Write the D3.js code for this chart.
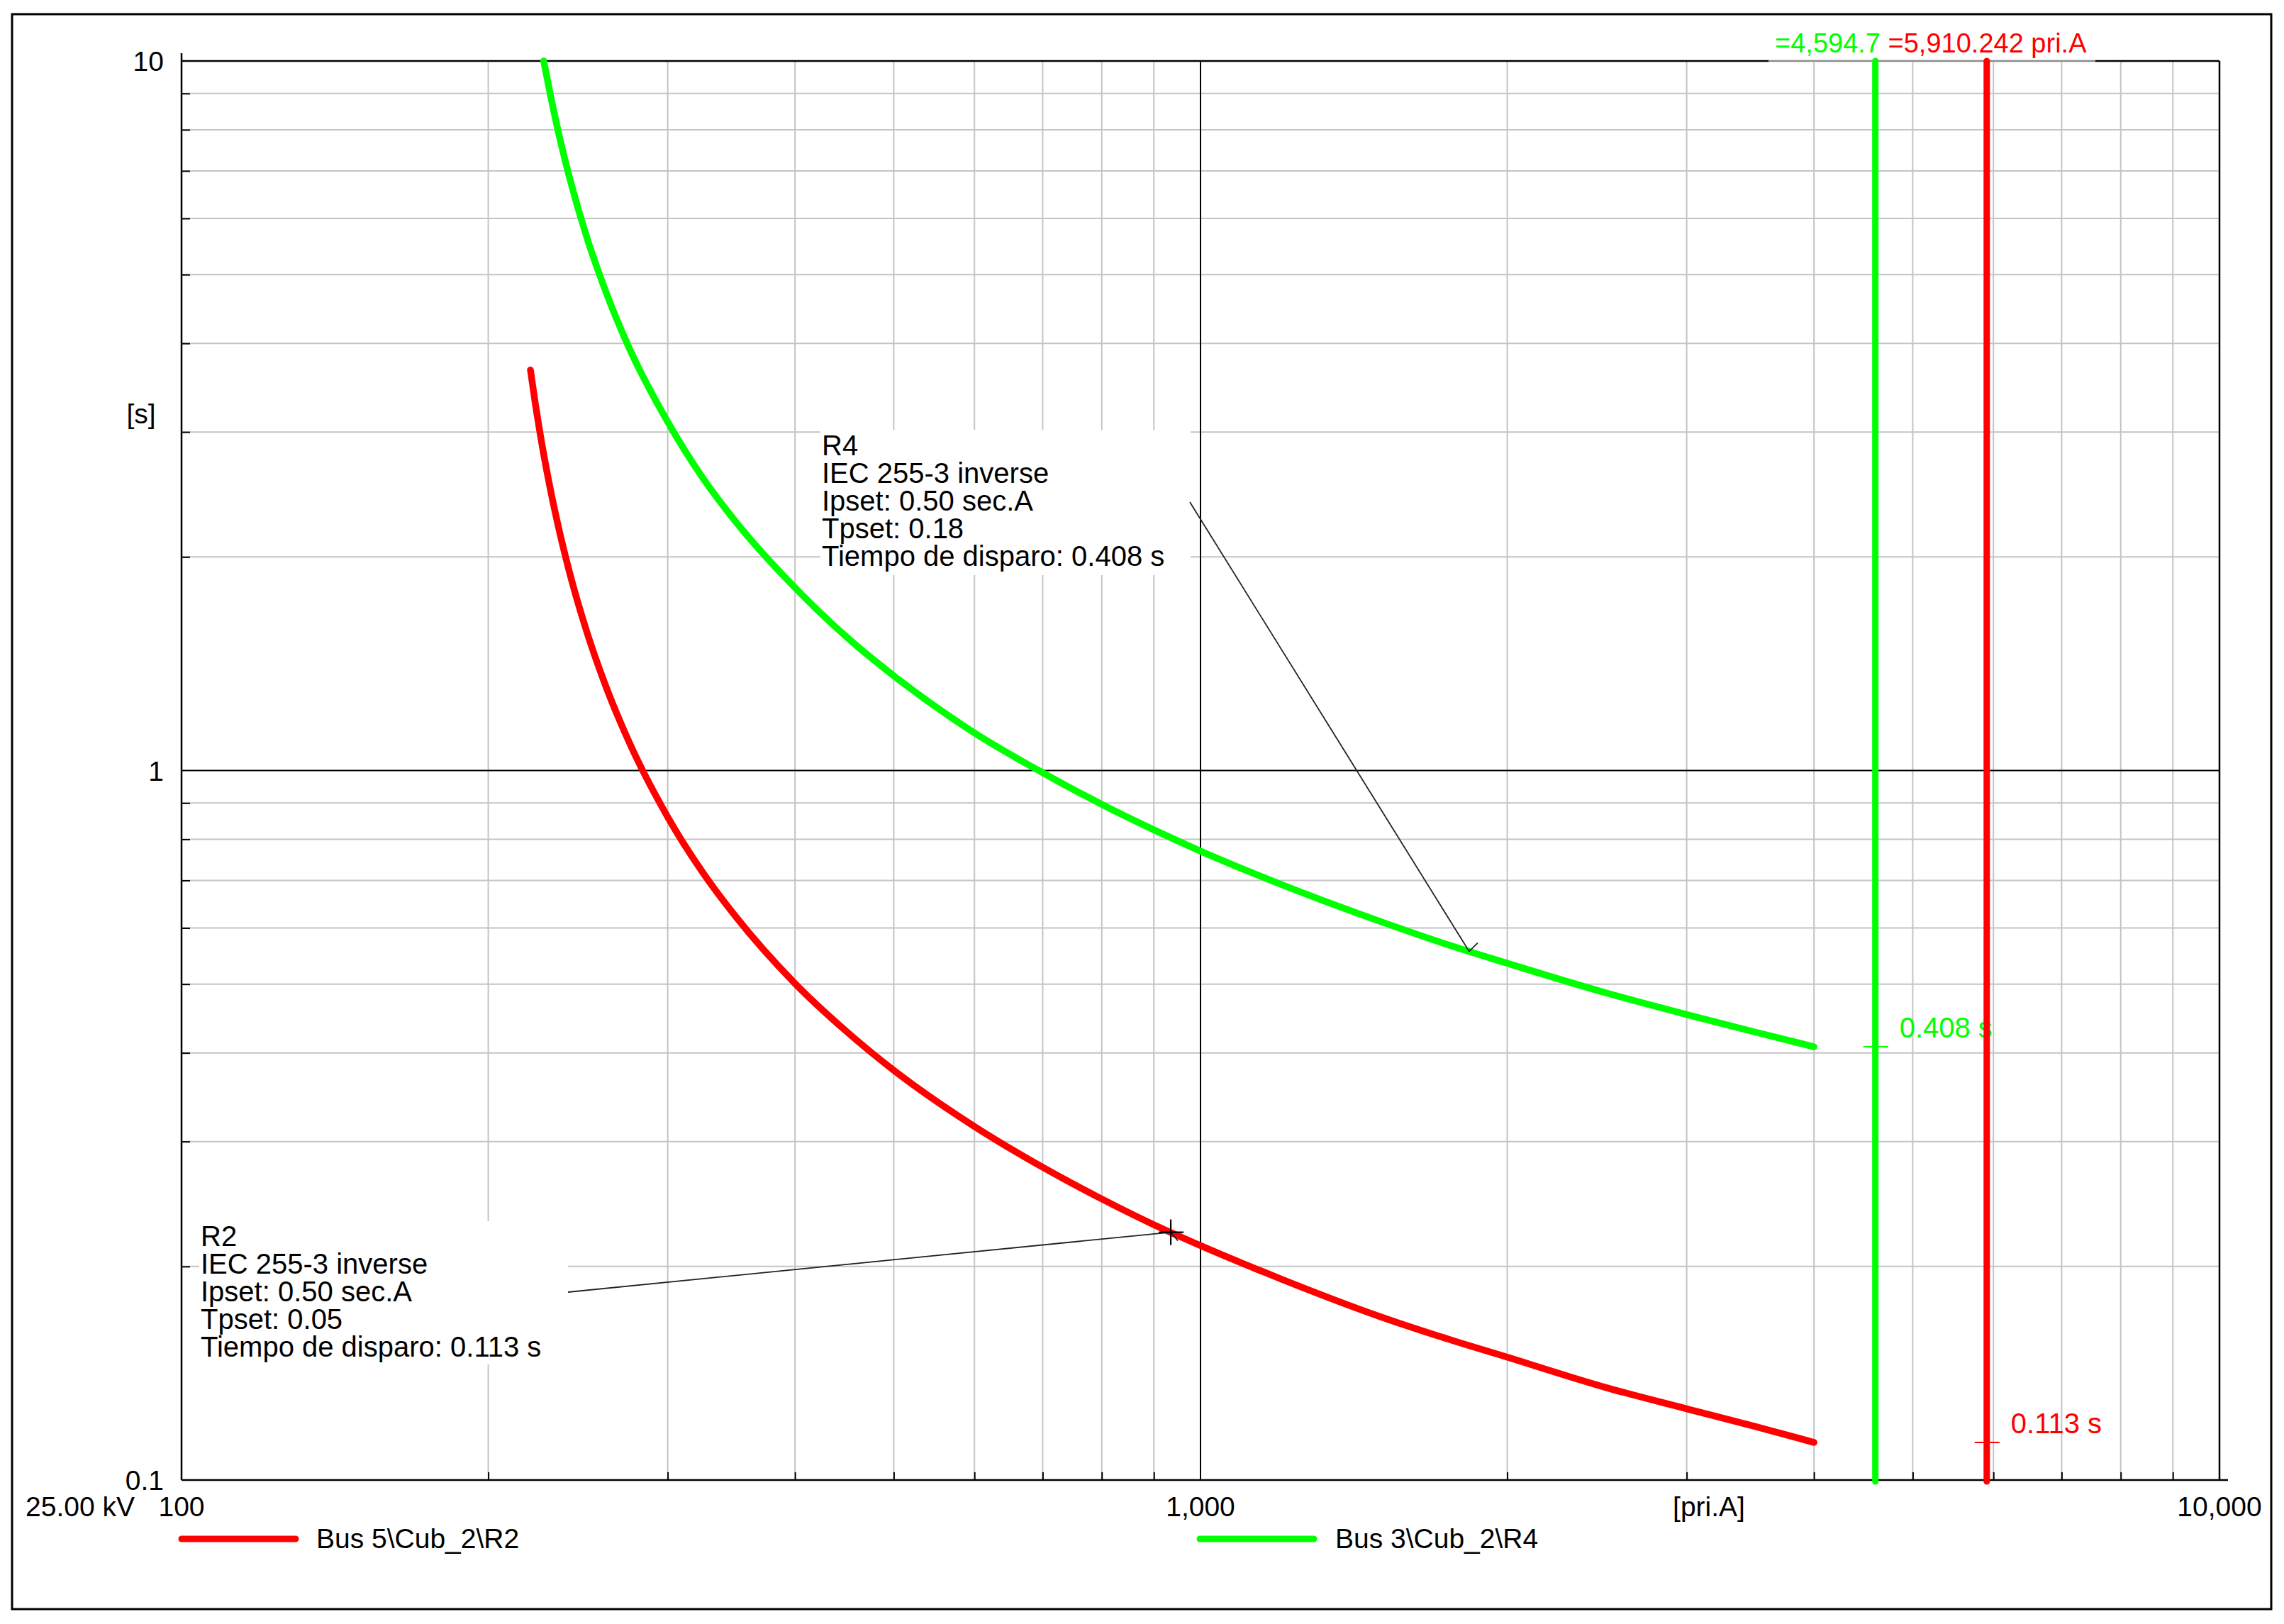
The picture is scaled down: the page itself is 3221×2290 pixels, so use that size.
<!DOCTYPE html>
<html>
<head>
<meta charset="utf-8">
<script src="https://cdn.jsdelivr.net/npm/d3@7"></script>
<style>
  html, body { margin: 0; padding: 0; background: #ffffff; }
  svg text { font-family: "Liberation Sans", Arial, sans-serif; font-size: 39px; }
</style>
</head>
<body>
<script>
// ---------------- DATA ----------------
const r2Current = [220, 222.5, 225, 230, 235, 240, 250, 260, 275, 300, 325, 350, 400, 450, 500, 600, 700, 800, 900, 1000, 1200, 1500, 1750, 2000, 2500, 3000, 3500, 4000];
const r2Time    = [3.669, 3.279, 2.968, 2.501, 2.167, 1.916, 1.565, 1.331, 1.096, 0.860, 0.717, 0.622, 0.501, 0.428, 0.378, 0.315, 0.276, 0.249, 0.229, 0.214, 0.192, 0.170, 0.158, 0.149, 0.135, 0.126, 0.119, 0.113];

const r4Current = [226.7, 230, 235, 240, 250, 260, 275, 300, 325, 350, 400, 450, 500, 600, 700, 800, 900, 1000, 1200, 1500, 1750, 2000, 2500, 3000, 3500, 4000];
const r4Time    = [10.0, 9.00, 7.80, 6.90, 5.63, 4.79, 3.94, 3.10, 2.58, 2.24, 1.81, 1.54, 1.36, 1.13, 0.993, 0.896, 0.825, 0.770, 0.691, 0.613, 0.568, 0.535, 0.486, 0.453, 0.428, 0.408];

const seriesNames  = ["Bus 5\\Cub_2\\R2", "Bus 3\\Cub_2\\R4"];
const seriesColors = ["#ff0000", "#00ff00"];

// fault current markers (vertical lines) and their trip times
const faultCurrent = [5910.242, 4594.7];   // R2 (red), R4 (green)
const faultLabel   = ["=5,910.242 pri.A", "=4,594.7"];
const tripTime     = [0.113, 0.408];
const tripLabel    = ["0.113 s", "0.408 s"];

// annotation pointers (on curves)
const r2PointerCurrent = 935,  r2PointerTime = 0.2235;
const r4PointerCurrent = 1835, r4PointerTime = 0.556;

const r2Info = ["R2", "IEC 255-3 inverse", "Ipset: 0.50 sec.A", "Tpset: 0.05", "Tiempo de disparo: 0.113 s"];
const r4Info = ["R4", "IEC 255-3 inverse", "Ipset: 0.50 sec.A", "Tpset: 0.18", "Tiempo de disparo: 0.408 s"];

const xTickValues = [100, 1000, 10000];
const xTickLabels = ["100", "1,000", "10,000"];
const yTickValues = [10, 1, 0.1];
const yTickLabels = ["10", "1", "0.1"];

// ---------------- LAYOUT ----------------
const W = 3221, H = 2290;
const L = 256, R = 3130, T = 86, B = 2087;

const svg = d3.select("body").append("svg")
  .attr("width", W).attr("height", H)
  .attr("viewBox", `0 0 ${W} ${H}`);

svg.append("rect").attr("x", 0).attr("y", 0).attr("width", W).attr("height", H).attr("fill", "#fff");

const x = d3.scaleLog().domain([100, 10000]).range([L, R]);
const y = d3.scaleLog().domain([0.1, 10]).range([B, T]);

// outer frame
svg.append("rect").attr("x", 17).attr("y", 20).attr("width", 3203 - 17).attr("height", 2269 - 20)
  .attr("fill", "none").attr("stroke", "#000").attr("stroke-width", 3);

const isDecade = v => Math.abs(Math.log10(v) - Math.round(Math.log10(v))) < 1e-9;
const xMinor = x.ticks().filter(v => !isDecade(v));
const yMinor = y.ticks().filter(v => !isDecade(v));

// minor gridlines
const grid = svg.append("g").attr("stroke", "#c4c4c4").attr("stroke-width", 2);
grid.selectAll("line.vx").data(xMinor).join("line")
  .attr("x1", d => x(d)).attr("x2", d => x(d)).attr("y1", T).attr("y2", B);
grid.selectAll("line.hy").data(yMinor).join("line")
  .attr("x1", L).attr("x2", R).attr("y1", d => y(d)).attr("y2", d => y(d));

// decade lines
svg.append("line").attr("x1", x(1000)).attr("x2", x(1000)).attr("y1", T).attr("y2", B)
  .attr("stroke", "#000").attr("stroke-width", 2);
svg.append("line").attr("x1", L).attr("x2", R).attr("y1", y(1)).attr("y2", y(1))
  .attr("stroke", "#000").attr("stroke-width", 2);

// ticks via d3 axes
const axB = svg.append("g").attr("transform", `translate(0,${B})`)
  .call(d3.axisBottom(x).tickValues(xMinor).tickSize(-11).tickFormat(""));
axB.select(".domain").remove();
axB.selectAll("line").attr("stroke", "#000").attr("stroke-width", 2);
const axL = svg.append("g").attr("transform", `translate(${L},0)`)
  .call(d3.axisLeft(y).tickValues(yMinor).tickSize(-12).tickFormat(""));
axL.select(".domain").remove();
axL.selectAll("line").attr("stroke", "#000").attr("stroke-width", 2);

// annotation boxes (white background)
const r4Box = {x: 1157, y: 606, w: 522, h: 205};
const r2Box = {x: 281, y: 1722, w: 520, h: 202};
[r4Box, r2Box].forEach(b => svg.append("rect").attr("x", b.x).attr("y", b.y)
  .attr("width", b.w).attr("height", b.h).attr("fill", "#fff"));

// plot border / axes
const border = svg.append("g").attr("stroke", "#000").attr("stroke-width", 2.5).attr("fill", "none");
border.append("line").attr("x1", L).attr("x2", R).attr("y1", T).attr("y2", T);
border.append("line").attr("x1", R).attr("x2", R).attr("y1", T).attr("y2", B);
border.append("line").attr("x1", L).attr("x2", L).attr("y1", T - 11).attr("y2", B);
border.append("line").attr("x1", L).attr("x2", R + 12).attr("y1", B).attr("y2", B);

// semi-transparent label background over top border
svg.append("rect").attr("x", 2494).attr("y", 40).attr("width", 461).attr("height", 48)
  .attr("fill", "#fff").attr("opacity", 0.55);

// curves
const line = d3.line().x(d => x(d[0])).y(d => y(d[1])).curve(d3.curveMonotoneX);
const r2Data = r2Current.map((c, i) => [c, r2Time[i]]);
const r4Data = r4Current.map((c, i) => [c, r4Time[i]]);
svg.append("path").datum(r2Data).attr("d", line).attr("fill", "none")
  .attr("stroke", seriesColors[0]).attr("stroke-width", 9.5).attr("stroke-linecap", "round").attr("stroke-linejoin", "round");
svg.append("path").datum(r4Data).attr("d", line).attr("fill", "none")
  .attr("stroke", seriesColors[1]).attr("stroke-width", 9.5).attr("stroke-linecap", "round").attr("stroke-linejoin", "round");

// trip-time markers & labels
faultCurrent.forEach((fc, i) => {
  const px = x(fc), py = y(tripTime[i]);
  svg.append("line").attr("x1", px - 17).attr("x2", px + 18).attr("y1", py).attr("y2", py)
    .attr("stroke", seriesColors[i]).attr("stroke-width", 2);
  svg.append("text").attr("x", px + 34).attr("y", py - 13).attr("fill", seriesColors[i])
    .style("font-size", "40px").text(tripLabel[i]);
});

// vertical fault-current lines
faultCurrent.forEach((fc, i) => {
  svg.append("line").attr("x1", x(fc)).attr("x2", x(fc)).attr("y1", T).attr("y2", B + 2)
    .attr("stroke", seriesColors[i]).attr("stroke-width", 9).attr("stroke-linecap", "round");
});

// top label
const topT = svg.append("text").attr("x", 2503).attr("y", 74).style("font-size", "38px");
topT.append("tspan").attr("fill", seriesColors[1]).text(faultLabel[1]);
topT.append("tspan").attr("fill", seriesColors[0]).text(" " + faultLabel[0]);

// leaders
const lead = svg.append("g").attr("stroke", "#222").attr("stroke-width", 1.8).attr("fill", "none");
const t4x = x(r4PointerCurrent), t4y = y(r4PointerTime);
lead.append("line").attr("x1", r4Box.x + r4Box.w - 1).attr("y1", 708).attr("x2", t4x).attr("y2", t4y);
lead.append("line").attr("x1", t4x).attr("y1", t4y).attr("x2", t4x + 12).attr("y2", t4y - 12);
const t2x = x(r2PointerCurrent), t2y = y(r2PointerTime);
lead.append("line").attr("x1", r2Box.x + r2Box.w).attr("y1", 1822).attr("x2", t2x).attr("y2", t2y);
lead.append("line").attr("x1", t2x).attr("y1", t2y).attr("x2", t2x + 10).attr("y2", t2y + 12);
const cross = svg.append("g").attr("stroke", "#000").attr("stroke-width", 2.2);
cross.append("line").attr("x1", t2x - 17).attr("x2", t2x + 18).attr("y1", t2y).attr("y2", t2y);
cross.append("line").attr("x1", t2x).attr("x2", t2x).attr("y1", t2y - 18).attr("y2", t2y + 18);

// annotation texts
r4Info.forEach((s, i) => svg.append("text").attr("x", r4Box.x + 2).attr("y", 642 + i * 39)
  .style("font-size", "40px").attr("fill", "#000").text(s));
r2Info.forEach((s, i) => svg.append("text").attr("x", r2Box.x + 2).attr("y", 1757 + i * 39)
  .style("font-size", "40px").attr("fill", "#000").text(s));

// axis labels
yTickValues.forEach((v, i) => svg.append("text").attr("x", 231).attr("y", y(v) + 14)
  .attr("text-anchor", "end").attr("fill", "#000").text(yTickLabels[i]));
xTickValues.forEach((v, i) => svg.append("text").attr("x", x(v)).attr("y", 2138)
  .attr("text-anchor", "middle").attr("fill", "#000").text(xTickLabels[i]));
svg.append("text").attr("x", 36).attr("y", 2138).attr("fill", "#000").text("25.00 kV");
svg.append("text").attr("x", 2410).attr("y", 2138).attr("text-anchor", "middle").attr("fill", "#000").text("[pri.A]");
svg.append("text").attr("x", 199).attr("y", 597).attr("text-anchor", "middle").attr("fill", "#000").text("[s]");

// legend
const legX = [252, 1688];
const legTX = [446, 1883];
[0, 1].forEach(i => {
  svg.append("line").attr("x1", legX[i] + 4).attr("x2", legX[i] + 165).attr("y1", 2170).attr("y2", 2170)
    .attr("stroke", seriesColors[i]).attr("stroke-width", 9).attr("stroke-linecap", "round");
  svg.append("text").attr("x", legTX[i]).attr("y", 2183).attr("fill", "#000").text(seriesNames[i]);
});
</script>
</body>
</html>
